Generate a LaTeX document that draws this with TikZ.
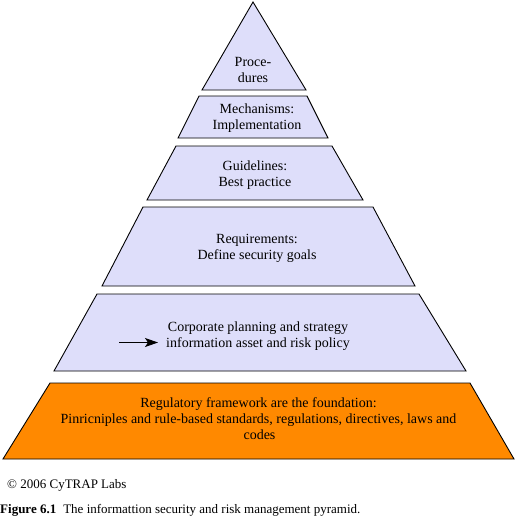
\documentclass[tikz,border=0pt]{standalone}
\usepackage{fontspec}
\setmainfont{Liberation Serif}
\usetikzlibrary{arrows.meta}
\definecolor{lav}{RGB}{222,222,250}
\definecolor{orng}{RGB}{255,137,0}
\begin{document}
\begin{tikzpicture}[x=1pt,y=-1pt,
  layer/.style={draw=black,line width=0.9pt,line join=miter},
  txt/.style={anchor=base,inner sep=0pt,font=\fontsize{14}{16}\selectfont},
  captxt/.style={anchor=base west,inner sep=0pt,font=\fontsize{13}{15}\selectfont}]
\useasboundingbox (0,0) rectangle (515,520);
\fill[white] (0,0) rectangle (515,520);
% layers
\draw[layer,fill=lav] (253,2) -- (306,90) -- (202,90) -- cycle;
\draw[layer,fill=lav] (199,96) -- (307,96) -- (328,138) -- (178,138) -- cycle;
\draw[layer,fill=lav] (176,146) -- (332,146) -- (363,200) -- (147,200) -- cycle;
\draw[layer,fill=lav] (143,207) -- (373,207) -- (415,286) -- (102,286) -- cycle;
\draw[layer,fill=lav] (97,294) -- (419,294) -- (466,371) -- (54,371) -- cycle;
\draw[layer,fill=orng] (50,383) -- (470,383) -- (514,459) -- (3,459) -- cycle;
% texts
\node[txt] (p1) at (253,66) {Proce-};
\node[txt] (p2) at (253,82) {dures};
\node[txt] (m1) at (257,113) {Mechanisms:};
\node[txt] (m2) at (257,129) {Implementation};
\node[txt] (g1) at (255,170) {Guidelines:};
\node[txt] (g2) at (255,186) {Best practice};
\node[txt] (r1) at (257,243) {Requirements:};
\node[txt] (r2) at (257,259) {Define security goals};
\node[txt] (c1) at (258,331) {Corporate planning and strategy};
\node[txt] (c2) at (258,347) {information asset and risk policy};
\node[txt] (f1) at (258.5,407) {Regulatory framework are the foundation:};
\node[txt] (f2) at (258.5,423) {Pinricniples and rule-based standards, regulations, directives, laws and};
\node[txt] (f3) at (259.5,439) {codes};
% arrow
\coordinate (a0) at (119,342.5);
\coordinate (a1) at (158,342.5);
\draw[line width=0.9pt,-{Stealth[length=13pt,width=9pt,inset=3pt]}] (a0) -- (a1);
% captions
\node[captxt] (copy) at (7,488) {© 2006 CyTRAP Labs};
\node[captxt] (fig) at (0,513) {\textbf{Figure 6.1}\hspace{7pt}The informattion security and risk management pyramid.};
\end{tikzpicture}
\end{document}
